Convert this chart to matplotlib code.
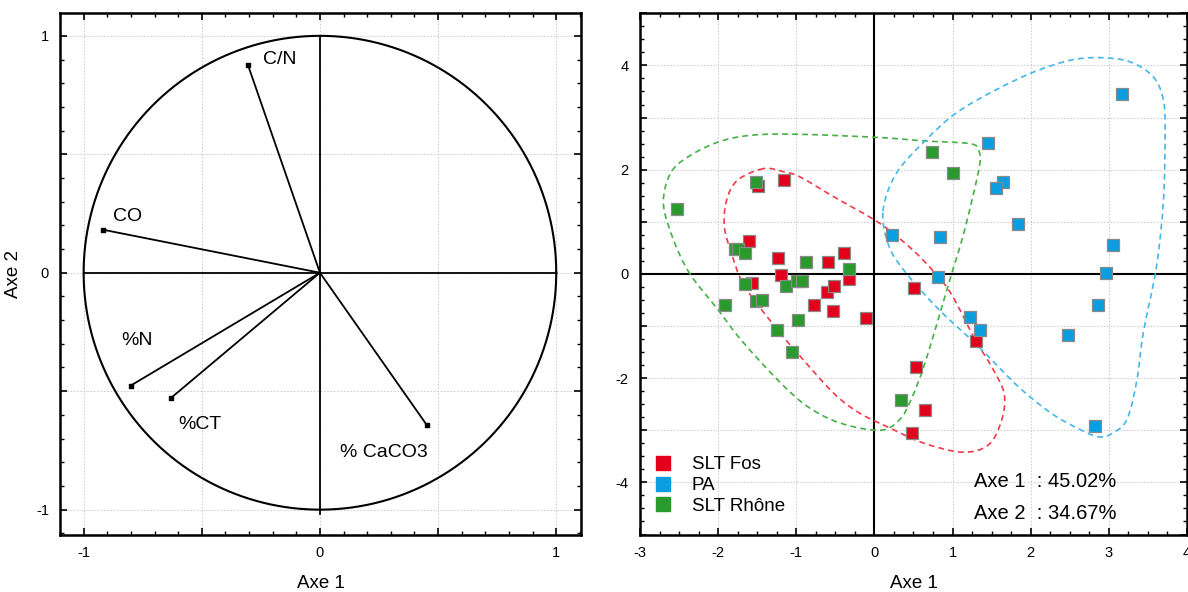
import numpy as np
import matplotlib
matplotlib.use("Agg")
import matplotlib.pyplot as plt
from matplotlib.path import Path
from matplotlib.patches import PathPatch
from matplotlib.ticker import MultipleLocator, FuncFormatter
from matplotlib.lines import Line2D

plt.rcParams['font.family'] = ['Liberation Sans', 'DejaVu Sans']
plt.rcParams['axes.unicode_minus'] = False

# --- cercle des correlations (variables) ---
var_names = ['C/N', 'CO', '%N', '%CT', '% CaCO3']
var_x = [-0.305, -0.92, -0.80, -0.632, 0.453]
var_y = [0.878, 0.182, -0.476, -0.53, -0.644]
lab_x = [-0.24, -0.877, -0.84, -0.60, 0.085]
lab_y = [0.90, 0.237, -0.288, -0.64, -0.76]

# --- individus ---
fos_x = [-1.49, -1.16, -1.61, -1.23, -0.59, -0.39, -0.325, -1.20, -1.56, -0.61,
         -0.52, -0.77, -0.53, -0.11, 0.51, 1.30, 0.535, 0.65, 0.485]
fos_y = [1.69, 1.80, 0.64, 0.31, 0.23, 0.41, -0.09, -0.02, -0.17, -0.34,
         -0.24, -0.59, -0.71, -0.85, -0.27, -1.28, -1.79, -2.62, -3.06]

pa_x = [3.17, 1.46, 1.645, 1.56, 1.84, 0.22, 0.84, 3.05, 0.81, 2.96,
        2.86, 1.23, 1.35, 2.48, 2.82]
pa_y = [3.45, 2.52, 1.76, 1.65, 0.96, 0.75, 0.71, 0.56, -0.05, 0.02,
        -0.59, -0.82, -1.07, -1.18, -2.91]

rho_x = [-2.53, -1.52, -1.78, -1.75, -1.65, -0.87, -0.325, -1.65, -1.13, -0.99,
         -0.92, -1.91, -1.52, -1.44, -0.98, -1.25, -1.06, 0.34, 0.74, 1.01]
rho_y = [1.245, 1.76, 0.47, 0.47, 0.41, 0.23, 0.09, -0.20, -0.23, -0.13,
         -0.13, -0.60, -0.52, -0.50, -0.89, -1.07, -1.50, -2.41, 2.34, 1.93]

# contours des groupes
fos_cx = [-1.42, -1.75, -1.89, -1.92, -1.83, -1.66, -1.24, -0.95, -0.52, -0.19, 0.19,
          0.62, 1.12, 1.46, 1.63, 1.66, 1.50, 1.29, 0.99, 0.78, 0.49, 0.07, -0.52, -0.95, -1.16]
fos_cy = [2.02, 1.80, 1.42, 0.91, 0.40, -0.24, -1.07, -1.58, -2.29, -2.67, -2.95,
          -3.24, -3.42, -3.28, -2.80, -2.29, -1.78, -1.26, -0.40, 0.01, 0.46, 0.97, 1.48, 1.86, 1.96]

pa_cx = [0.11, 0.28, 0.66, 1.04, 1.54, 2.05, 2.51, 2.89, 3.27, 3.57, 3.70, 3.72, 3.70,
         3.61, 3.44, 3.36, 3.23, 3.02, 2.85, 2.60, 2.26, 1.84, 1.33, 0.83, 0.41, 0.19]
pa_cy = [1.20, 1.93, 2.57, 3.08, 3.52, 3.88, 4.10, 4.15, 4.07, 3.78, 3.33, 2.70, 1.42,
         0.14, -1.14, -2.03, -2.80, -3.08, -3.12, -2.96, -2.67, -2.16, -1.39, -0.69, 0.01, 0.52]

rho_cx = [-2.36, -2.57, -2.70, -2.61, -2.38, -2.0, -1.58, -0.99, 0.03, 0.66, 1.22, 1.33,
          1.35, 1.25, 1.12, 0.99, 0.66, 0.47, 0.32, 0.07, -0.44, -0.86, -1.24, -1.71, -2.0]
rho_cy = [0.0, 0.65, 1.35, 1.93, 2.25, 2.53, 2.66, 2.68, 2.62, 2.55, 2.50, 2.38,
          2.12, 1.42, 0.65, 0.01, -1.65, -2.41, -2.80, -3.0, -2.86, -2.54, -2.03, -1.26, -0.69]

red = '#e2001a'
blue = '#0a9ee0'
green = '#2b9a2e'


def closed_curve(xs, ys):
    # Catmull-Rom -> courbes de Bezier
    p = np.column_stack([xs, ys])
    n = len(p)
    verts = [p[0]]
    codes = [Path.MOVETO]
    for i in range(n):
        p0, p1, p2, p3 = p[i - 1], p[i], p[(i + 1) % n], p[(i + 2) % n]
        verts += [p1 + (p2 - p0) / 6, p2 - (p3 - p1) / 6, p2]
        codes += [Path.CURVE4] * 3
    return Path(verts, codes)


def style_axes(ax, major, minor):
    ax.xaxis.set_major_locator(MultipleLocator(major))
    ax.yaxis.set_major_locator(MultipleLocator(major))
    ax.xaxis.set_minor_locator(MultipleLocator(minor))
    ax.yaxis.set_minor_locator(MultipleLocator(minor))
    ax.tick_params(which='both', direction='in', top=True, right=True, labelsize=10.5, pad=8, color='black')
    ax.tick_params(which='major', length=5, width=1.2)
    ax.tick_params(which='minor', length=3, width=1)
    ax.grid(True, which='major', color='#cfcfcf', linestyle=(0, (1.5, 1.5)), linewidth=0.8)
    ax.set_axisbelow(True)
    for s in ax.spines.values():
        s.set_linewidth(1.8)


fig = plt.figure(figsize=(11.88, 5.92), dpi=100)

# ---- panneau gauche ----
ax1 = fig.add_axes([0.0505, 0.0971, 0.4386, 0.8804])
style_axes(ax1, 0.5, 0.1)
int_fmt = FuncFormatter(lambda v, p: '%d' % round(v) if abs(v - round(v)) < 1e-6 else '')
ax1.xaxis.set_major_formatter(int_fmt)
ax1.yaxis.set_major_formatter(int_fmt)
ax1.set_xlim(-1.1, 1.105)
ax1.set_ylim(-1.105, 1.095)
t = np.linspace(0, 2 * np.pi, 400)
ax1.plot(np.cos(t), np.sin(t), color='black', lw=1.5)
ax1.plot([-1, 1], [0, 0], color='black', lw=1.3)
ax1.plot([0, 0], [-1.02, 1], color='black', lw=1.3)
for vx, vy in zip(var_x, var_y):
    ax1.plot([0, vx], [0, vy], color='black', lw=1.3)
ax1.scatter(var_x, var_y, marker='s', s=9, color='black', zorder=3)
for name, lx, ly in zip(var_names, lab_x, lab_y):
    ax1.text(lx, ly, name, fontsize=14, ha='left', va='center')
ax1.set_xlabel('Axe 1', fontsize=13.5, labelpad=11)
ax1.set_ylabel('Axe 2', fontsize=13.5, labelpad=10)

# ---- panneau droit ----
ax2 = fig.add_axes([0.5387, 0.0971, 0.4604, 0.8804])
style_axes(ax2, 1, 0.25)
even_fmt = FuncFormatter(lambda v, p: '%d' % round(v) if round(v) % 2 == 0 and abs(v) < 4.5 else '')
ax2.yaxis.set_major_formatter(even_fmt)
ax2.xaxis.set_major_formatter(FuncFormatter(lambda v, p: '%d' % round(v)))
ax2.set_xlim(-3, 4)
ax2.set_ylim(-5, 5)
ax2.axhline(0, color='black', lw=1.5)
ax2.axvline(0, color='black', lw=1.5)

for cx, cy, c in [(rho_cx, rho_cy, '#45b045'), (fos_cx, fos_cy, '#f03a4a'), (pa_cx, pa_cy, '#45b6e8')]:
    ax2.add_patch(PathPatch(closed_curve(cx, cy), fill=False, edgecolor=c, lw=1.2,
                            linestyle=(0, (3.5, 2.5)), zorder=2))

ax2.scatter(fos_x, fos_y, marker='s', s=80, color=red, edgecolor='#8a8a8a', linewidth=0.9, zorder=4)
ax2.scatter(pa_x, pa_y, marker='s', s=80, color=blue, edgecolor='#8a8a8a', linewidth=0.9, zorder=4)
ax2.scatter(rho_x, rho_y, marker='s', s=80, color=green, edgecolor='#8a8a8a', linewidth=0.9, zorder=4)

handles = [Line2D([], [], marker='s', linestyle='none', markersize=10, color=c, markeredgecolor=c)
           for c in (red, blue, green)]
ax2.legend(handles, ['SLT Fos', 'PA', 'SLT Rhône'], loc='lower left', bbox_to_anchor=(-0.005, 0.005),
           frameon=False, fontsize=13.5, handlelength=1.0, handletextpad=1.0, labelspacing=0.2)

ax2.text(1.27, -3.98, 'Axe 1  : 45.02%', fontsize=14.5, ha='left', va='center')
ax2.text(1.27, -4.59, 'Axe 2  : 34.67%', fontsize=14.5, ha='left', va='center')
ax2.set_xlabel('Axe 1', fontsize=13.5, labelpad=11)

fig.savefig('out.png', dpi=100)
